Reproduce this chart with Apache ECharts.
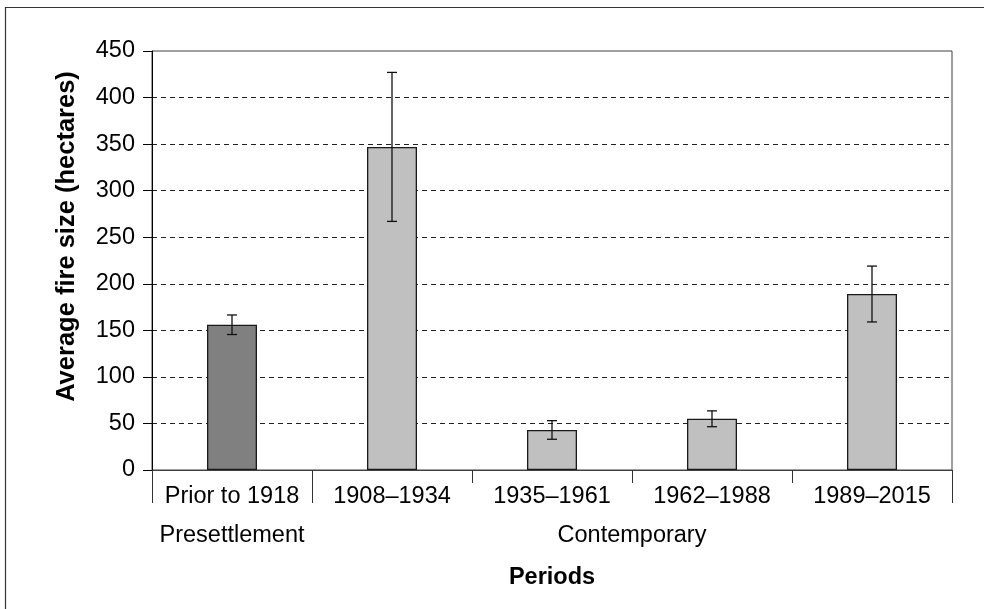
<!DOCTYPE html>
<html lang="en">
<head>
    <meta charset="UTF-8">
    <title>Average fire size by period</title>
    <script src="https://cdn.jsdelivr.net/npm/echarts@6/dist/echarts.min.js"></script>
    <style>
        html, body { margin: 0; padding: 0; background: #fff; }
    </style>
</head>
<body>
<div id="main" style="width: 984px;height:609px;"></div>
<script type="text/javascript">
    // data
    var periods = ['Prior to 1918', '1908\u20131934', '1935\u20131961', '1962\u20131988', '1989\u20132015'];
    var meanSize = [156, 347, 43, 55, 189];
    var errSize = [10.5, 80, 10, 8.5, 30];
    var barColors = ['#808080', '#c0c0c0', '#c0c0c0', '#c0c0c0', '#c0c0c0'];
    // grouping of the periods (in category units)
    var groupNames = ['Presettlement', 'Contemporary'];
    var groupStart = [0, 1];
    var groupEnd = [1, 5];
    var yTicks = [0, 50, 100, 150, 200, 250, 300, 350, 400, 450];

    var font = "'Liberation Sans', Arial, sans-serif";

    var groupBounds = [];
    var groupMids = [];
    groupNames.forEach(function (g, i) {
        if (groupBounds.indexOf(groupStart[i]) < 0) groupBounds.push(groupStart[i]);
        if (groupBounds.indexOf(groupEnd[i]) < 0) groupBounds.push(groupEnd[i]);
        groupMids.push((groupStart[i] + groupEnd[i]) / 2);
    });

    var errData = periods.map(function (p, i) {
        return [i, meanSize[i] + errSize[i], meanSize[i] - errSize[i]];
    });

    var myChart = echarts.init(document.getElementById('main'));
    var option = {
        animation: false,
        backgroundColor: '#fff',
        textStyle: { fontFamily: font },
        graphic: [{
            type: 'rect',
            shape: { x: 5.5, y: 7.5, width: 1200, height: 800 },
            style: { fill: null, stroke: '#333', lineWidth: 1.2 },
            z: 100
        }],
        grid: {
            left: 152, top: 51, right: 32, bottom: 139,
            show: true,
            borderColor: '#404040',
            borderWidth: 1,
            backgroundColor: '#fff'
        },
        xAxis: [{
            type: 'category',
            data: periods,
            axisLine: { lineStyle: { color: '#404040', width: 1 } },
            axisTick: { show: true, length: 13, lineStyle: { color: '#333' } },
            axisLabel: { color: '#000', fontSize: 23.5, margin: 15, fontFamily: font, interval: 0 },
            name: 'Periods',
            nameLocation: 'middle',
            nameGap: 96,
            nameTextStyle: { color: '#000', fontSize: 23.5, fontWeight: 'bold', fontFamily: font }
        }, {
            type: 'value',
            min: 0,
            max: periods.length,
            position: 'bottom',
            axisLine: { show: false },
            splitLine: { show: false },
            axisTick: { show: true, length: 33, customValues: groupBounds, lineStyle: { color: '#333' } },
            axisLabel: {
                customValues: groupMids,
                color: '#000', fontSize: 23.5, margin: 54, fontFamily: font,
                formatter: function (v) {
                    var i = groupMids.indexOf(v);
                    return i >= 0 ? groupNames[i] : '';
                }
            }
        }],
        yAxis: {
            type: 'value',
            min: yTicks[0],
            max: yTicks[yTicks.length - 1],
            interval: yTicks[1] - yTicks[0],
            axisLine: { show: true, lineStyle: { color: '#000', width: 1 } },
            axisTick: { show: true, length: 9, lineStyle: { color: '#000' } },
            axisLabel: { color: '#000', fontSize: 23.5, margin: 17, fontFamily: font },
            splitLine: {
                show: true,
                showMinLine: false,
                showMaxLine: false,
                lineStyle: { color: '#222', type: [5, 4], width: 1 }
            },
            name: 'Average fire size (hectares)',
            nameLocation: 'middle',
            nameGap: 72,
            nameTextStyle: {
                color: '#000', fontSize: 25.5, fontWeight: 'bold', fontFamily: font,
                padding: [0, 0, 0, 48]
            }
        },
        series: [{
            type: 'bar',
            barWidth: 50,
            data: meanSize.map(function (v, i) {
                return { value: v, itemStyle: { color: barColors[i] } };
            }),
            itemStyle: { borderColor: '#1a1a1a', borderWidth: 1.3 },
            z: 2
        }, {
            type: 'custom',
            data: errData,
            z: 3,
            renderItem: function (params, api) {
                var x = api.value(0);
                var hi = api.coord([x, api.value(1)]);
                var lo = api.coord([x, api.value(2)]);
                var hw = 5;
                var st = { stroke: '#111', lineWidth: 1.3 };
                return {
                    type: 'group',
                    children: [
                        { type: 'line', shape: { x1: hi[0], y1: hi[1], x2: lo[0], y2: lo[1] }, style: st },
                        { type: 'line', shape: { x1: hi[0] - hw, y1: hi[1], x2: hi[0] + hw, y2: hi[1] }, style: st },
                        { type: 'line', shape: { x1: lo[0] - hw, y1: lo[1], x2: lo[0] + hw, y2: lo[1] }, style: st }
                    ]
                };
            }
        }]
    };
    option && myChart.setOption(option);
</script>
</body>
</html>
